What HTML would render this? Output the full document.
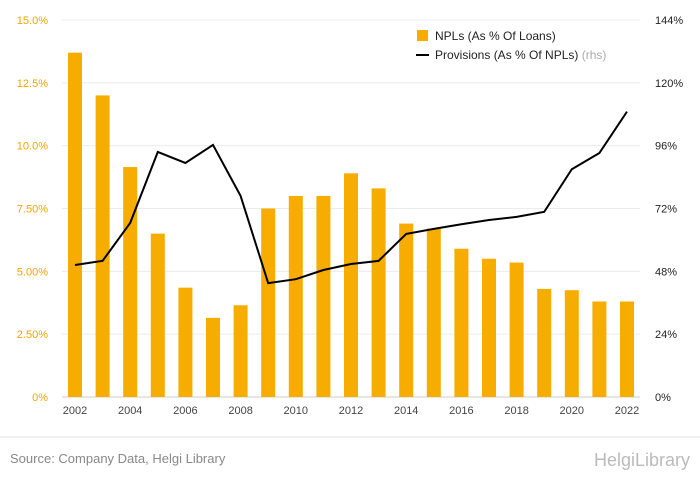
<!DOCTYPE html>
<html><head><meta charset="utf-8"><style>
html,body{margin:0;background:#fff;font-family:"Liberation Sans",sans-serif;width:700px;height:483px;overflow:hidden;}
svg{display:block;}
</style></head><body>
<svg width="700" height="483" viewBox="0 0 700 483" id="chart" font-family="Liberation Sans, sans-serif">
<line x1="0" y1="437" x2="700" y2="437" stroke="#e3e3e3"/>
<text x="10" y="463" font-size="13" fill="#888">Source: Company Data, Helgi Library</text>
<text x="690" y="466" font-size="18" fill="#bbb" text-anchor="end">HelgiLibrary</text>
<g id="grid"></g><g id="bars"></g><g id="line"></g><g id="axes"></g>
<g>
<rect x="417" y="30" width="11" height="11" fill="#f7ad00"/>
<text x="435" y="40" font-size="12" fill="#222">NPLs (As % Of Loans)</text>
<line x1="416" y1="55" x2="429" y2="55" stroke="#000" stroke-width="2"/>
<text x="435" y="59" font-size="12" fill="#222">Provisions (As % Of NPLs) <tspan fill="#aaa">(rhs)</tspan></text>
</g>
</svg>
<script>
const years=[2002,2003,2004,2005,2006,2007,2008,2009,2010,2011,2012,2013,2014,2015,2016,2017,2018,2019,2020,2021,2022];
const npls=[13.7,12.0,9.15,6.5,4.35,3.15,3.65,7.5,8.0,8.0,8.9,8.3,6.9,6.7,5.9,5.5,5.35,4.3,4.25,3.8,3.8];
const provisions=[50.4,52,66.5,93.6,89.4,96.3,76.8,43.5,45,48.5,50.8,52,62.3,64.2,66,67.6,68.8,70.7,87,93.2,109];
const leftTicks=["0%","2.50%","5.00%","7.50%","10.0%","12.5%","15.0%"];
const rightTicks=["0%","24%","48%","72%","96%","120%","144%"];
const NS="http://www.w3.org/2000/svg";
const plotTop=20,plotBot=397,x0=75,dx=27.6;
const xPos=i=>x0+i*dx;
const yL=v=>plotBot-(v/15)*(plotBot-plotTop);
const yR=v=>plotBot-(v/144)*(plotBot-plotTop);
function mk(t,a,p){const e=document.createElementNS(NS,t);for(const k in a)e.setAttribute(k,a[k]);p.appendChild(e);return e;}
const grid=document.getElementById('grid'),axes=document.getElementById('axes');
leftTicks.forEach((t,i)=>{
 const y=plotBot-i*(plotBot-plotTop)/6;
 const g=mk('line',{x1:62,x2:640,y1:y,y2:y,stroke:i==0?'#ccc':'#ececec'},grid);
 
 
 const l=mk('text',{x:48,y:y+4,'font-size':11,fill:'#f0a500','text-anchor':'end'},axes);l.textContent=t;
 
 
 const r=mk('text',{x:655,y:y+4,'font-size':11,fill:'#222'},axes);r.textContent=rightTicks[i];
 
 
});
const bars=document.getElementById('bars');
npls.forEach((v,i)=>{
 const b=mk('rect',{x:xPos(i)-7,y:yL(v),width:14,height:plotBot-yL(v),fill:'#f7ad00'},bars);
 
 
});
years.forEach((yr,i)=>{
 if(i%2)return;
 const t=mk('text',{x:xPos(i),y:414,'font-size':11,fill:'#444','text-anchor':'middle'},axes);t.textContent=yr;
 
 
});
const pts=provisions.map((v,i)=>xPos(i)+','+yR(v)).join(' ');
const pl=mk('polyline',{points:pts,fill:'none',stroke:'#000','stroke-width':2},document.getElementById('line'));


</script>
</body></html>
